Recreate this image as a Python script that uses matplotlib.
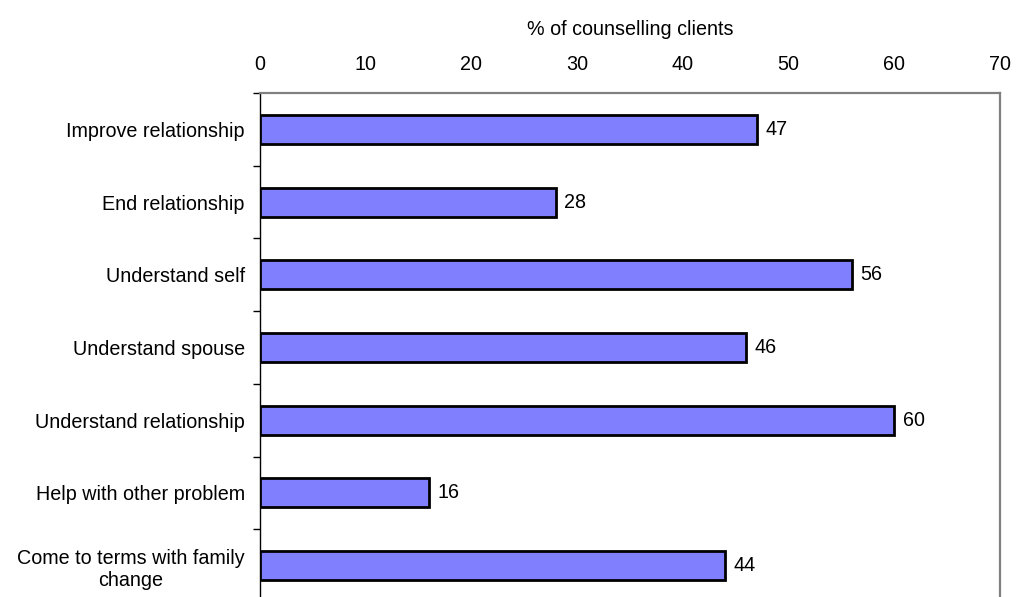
import matplotlib
matplotlib.use("Agg")
import matplotlib.pyplot as plt
import numpy as np

categories = [
    "Improve relationship",
    "End relationship",
    "Understand self",
    "Understand spouse",
    "Understand relationship",
    "Help with other problem",
    "Come to terms with family\nchange",
]
values = [47, 28, 56, 46, 60, 16, 44]
x_ticks = [0, 10, 20, 30, 40, 50, 60, 70]

plt.rcParams["font.family"] = ["Liberation Sans", "DejaVu Sans"]
FS = 14.2

fig = plt.figure(figsize=(10.17, 5.97), dpi=100)
ax = fig.add_axes([260 / 1017, 1 - 602 / 597, 740 / 1017, 509 / 597])

y = np.arange(len(categories))
ax.barh(y, values, height=0.4, color="#8080FF", edgecolor="black", linewidth=2, zorder=3)

for yi, v in zip(y, values):
    ax.annotate(str(v), (v, yi), xytext=(6, 0), textcoords="offset points",
                va="center", ha="left", fontsize=FS)

ax.set_xlim(0, 70)
ax.set_ylim(len(categories) - 0.5, -0.5)
ax.set_xticks(x_ticks)
ax.xaxis.tick_top()
ax.xaxis.set_label_position("top")
ax.tick_params(axis="x", length=0, labelsize=FS, pad=14)
ax.set_xlabel("% of counselling clients", fontsize=FS, labelpad=14)

ax.set_yticks(y)
labels = ax.set_yticklabels(categories, fontsize=FS)
for lab in labels:
    lab.set_multialignment("center")
ax.tick_params(axis="y", which="major", length=0, pad=11)
ax.set_yticks(np.arange(-0.5, len(categories), 1), minor=True)
ax.tick_params(axis="y", which="minor", length=5, width=1, color="black")

ax.spines["left"].set_color("black")
ax.spines["left"].set_linewidth(1)
for s in ("top", "right"):
    ax.spines[s].set_color("#808080")
    ax.spines[s].set_linewidth(1.6)
ax.spines["bottom"].set_visible(False)

fig.savefig("out.png", dpi=100)
